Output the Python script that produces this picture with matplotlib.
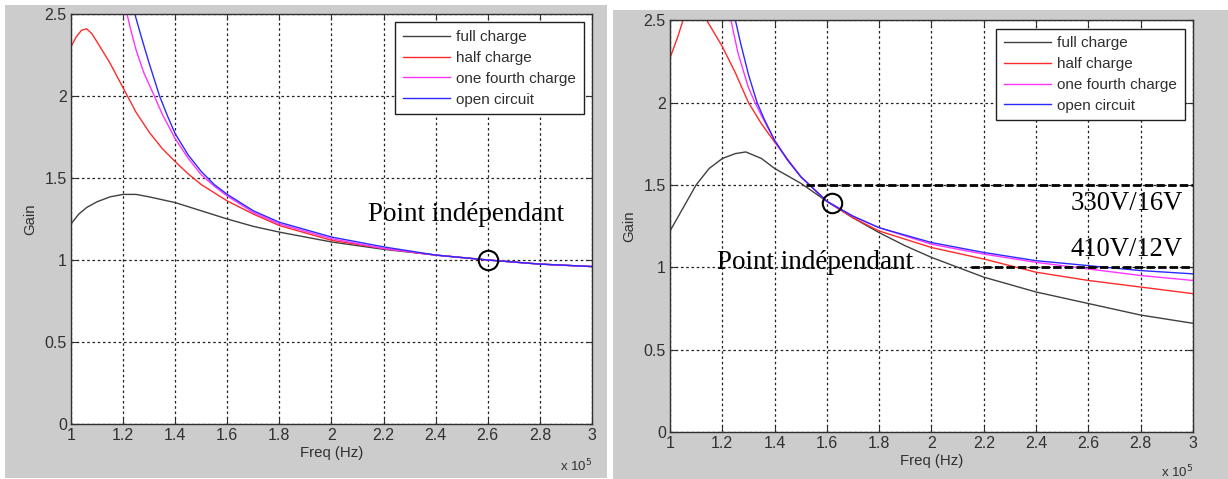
import matplotlib
matplotlib.use('Agg')
import matplotlib.pyplot as plt
from matplotlib.patches import Rectangle
import numpy as np

labels = ['full charge', 'half charge', 'one fourth charge', 'open circuit']
colors = ['#404040', '#ff2b2b', '#ff33ff', '#2b2bff']

# left panel (freq in 1e5 Hz)
l_full_x = [1.0, 1.03, 1.06, 1.1, 1.15, 1.2, 1.25, 1.3, 1.4, 1.5, 1.6, 1.7, 1.8, 1.9, 2.0, 2.2, 2.4, 2.6, 2.8, 3.0]
l_full_y = [1.22, 1.28, 1.32, 1.355, 1.385, 1.40, 1.40, 1.385, 1.35, 1.30, 1.25, 1.205, 1.17, 1.14, 1.11, 1.065, 1.03, 1.0, 0.975, 0.96]
l_half_x = [1.0, 1.02, 1.04, 1.06, 1.08, 1.1, 1.15, 1.2, 1.25, 1.3, 1.35, 1.4, 1.45, 1.5, 1.6, 1.7, 1.8, 2.0, 2.2, 2.4, 2.6, 2.8, 3.0]
l_half_y = [2.30, 2.36, 2.40, 2.41, 2.38, 2.33, 2.20, 2.05, 1.90, 1.78, 1.68, 1.60, 1.525, 1.46, 1.36, 1.28, 1.21, 1.12, 1.07, 1.03, 1.0, 0.975, 0.96]
l_quart_x = [1.215, 1.23, 1.25, 1.28, 1.3, 1.32, 1.35, 1.4, 1.45, 1.5, 1.55, 1.6, 1.7, 1.8, 2.0, 2.2, 2.4, 2.6, 2.8, 3.0]
l_quart_y = [2.5, 2.40, 2.28, 2.14, 2.07, 2.0, 1.89, 1.74, 1.62, 1.52, 1.45, 1.39, 1.29, 1.22, 1.13, 1.07, 1.03, 1.0, 0.975, 0.96]
l_open_x = [1.245, 1.27, 1.3, 1.34, 1.37, 1.4, 1.45, 1.5, 1.55, 1.6, 1.7, 1.8, 2.0, 2.2, 2.4, 2.6, 2.8, 3.0]
l_open_y = [2.5, 2.36, 2.20, 2.0, 1.88, 1.77, 1.64, 1.54, 1.46, 1.40, 1.30, 1.23, 1.14, 1.08, 1.03, 1.0, 0.975, 0.96]

# right panel
r_full_x = [1.0, 1.05, 1.1, 1.15, 1.2, 1.25, 1.29, 1.35, 1.4, 1.45, 1.5, 1.6, 1.7, 1.8, 1.9, 2.0, 2.1, 2.2, 2.4, 2.6, 2.8, 3.0]
r_full_y = [1.22, 1.36, 1.50, 1.60, 1.66, 1.69, 1.70, 1.66, 1.60, 1.555, 1.51, 1.40, 1.30, 1.21, 1.13, 1.06, 1.0, 0.94, 0.85, 0.78, 0.71, 0.66]
r_half_x = [1.0, 1.03, 1.05, 1.08, 1.1, 1.14, 1.2, 1.25, 1.3, 1.35, 1.4, 1.5, 1.6, 1.7, 1.8, 2.0, 2.2, 2.4, 2.6, 2.8, 3.0]
r_half_y = [2.27, 2.40, 2.50, 2.60, 2.62, 2.50, 2.34, 2.18, 2.0, 1.87, 1.76, 1.55, 1.40, 1.30, 1.22, 1.12, 1.05, 0.97, 0.92, 0.88, 0.84]
r_quart_x = [1.233, 1.26, 1.3, 1.325, 1.35, 1.4, 1.45, 1.5, 1.6, 1.7, 1.8, 2.0, 2.2, 2.4, 2.6, 2.8, 3.0]
r_quart_y = [2.5, 2.30, 2.09, 2.0, 1.92, 1.77, 1.65, 1.55, 1.40, 1.31, 1.24, 1.14, 1.08, 1.03, 0.99, 0.95, 0.92]
r_open_x = [1.25, 1.27, 1.3, 1.333, 1.36, 1.4, 1.45, 1.5, 1.6, 1.7, 1.8, 2.0, 2.2, 2.4, 2.6, 2.8, 3.0]
r_open_y = [2.5, 2.36, 2.17, 2.0, 1.90, 1.77, 1.65, 1.55, 1.40, 1.31, 1.24, 1.15, 1.09, 1.04, 1.01, 0.98, 0.96]

xticks = [1, 1.2, 1.4, 1.6, 1.8, 2, 2.2, 2.4, 2.6, 2.8, 3]
yticks = [0, 0.5, 1, 1.5, 2, 2.5]

plt.rcParams['font.family'] = ['Liberation Sans', 'DejaVu Sans']

fig = plt.figure(figsize=(12.28, 4.79), dpi=100)
fig.patch.set_facecolor('white')
fig.patches.append(Rectangle((0.004, 0.002), 0.490, 0.988, transform=fig.transFigure,
                             facecolor='#cccccc', edgecolor='none', zorder=-10))
fig.patches.append(Rectangle((0.499, 0.0), 0.501, 0.979, transform=fig.transFigure,
                             facecolor='#cccccc', edgecolor='none', zorder=-10))

ax1 = fig.add_axes([0.0578, 0.1148, 0.4243, 0.856])
ax2 = fig.add_axes([0.5456, 0.098, 0.4259, 0.860])


def style(ax, xoff):
    ax.set_facecolor('white')
    ax.set_xlim(1, 3)
    ax.set_ylim(0, 2.5)
    ax.set_xticks(xticks)
    ax.set_xticklabels(['1', '1.2', '1.4', '1.6', '1.8', '2', '2.2', '2.4', '2.6', '2.8', '3'])
    ax.set_yticks(yticks)
    ax.set_yticklabels(['0', '0.5', '1', '1.5', '2', '2.5'])
    ax.grid(True, linestyle=(0, (2, 2.2)), color='#202020', linewidth=0.9)
    ax.tick_params(direction='in', top=True, right=True, length=4, labelsize=11.5,
                   colors='#303030', pad=3)
    for s in ax.spines.values():
        s.set_color('#303030')
        s.set_linewidth(1.0)
    ax.set_xlabel('Freq (Hz)', fontsize=10.8, color='#303030', labelpad=2)
    ax.set_ylabel('Gain', fontsize=10.8, color='#303030', labelpad=5)
    ax.text(1.0, xoff, r'x 10$^5$', transform=ax.transAxes, ha='right', va='top',
            fontsize=9.5, color='#303030')


style(ax1, -0.083)
style(ax2, -0.078)

left_series = [(l_full_x, l_full_y), (l_half_x, l_half_y), (l_quart_x, l_quart_y), (l_open_x, l_open_y)]
right_series = [(r_full_x, r_full_y), (r_half_x, r_half_y), (r_quart_x, r_quart_y), (r_open_x, r_open_y)]

for (x, y), c, lab in zip(left_series, colors, labels):
    ax1.plot(x, y, color=c, linewidth=1.0, label=lab)
for (x, y), c, lab in zip(right_series, colors, labels):
    ax2.plot(x, y, color=c, linewidth=1.0, label=lab)

for ax in (ax1, ax2):
    leg = ax.legend(loc='upper right', fontsize=11, fancybox=False, framealpha=1,
                    edgecolor='#202020', handlelength=3.1, handletextpad=0.4,
                    borderaxespad=0.55, labelspacing=0.45, borderpad=0.5)
    leg.get_frame().set_linewidth(1.0)
    for t in leg.get_texts():
        t.set_color('#303030')

# annotations
ax1.plot([2.6], [1.0], marker='o', markersize=14, markerfacecolor='none',
         markeredgecolor='black', markeredgewidth=1.5)
ax1.text(2.14, 1.28, 'Point indépendant', family='Liberation Serif', fontsize=19.5,
         va='center', ha='left')

ax2.plot([1.62], [1.39], marker='o', markersize=14, markerfacecolor='none',
         markeredgecolor='black', markeredgewidth=1.5)
ax2.text(1.18, 1.03, 'Point indépendant', family='Liberation Serif', fontsize=19.5,
         va='center', ha='left')
ax2.plot([1.52, 3.0], [1.5, 1.5], color='black', linestyle=(0, (3, 1.2)), linewidth=2)
ax2.plot([2.15, 3.0], [1.0, 1.0], color='black', linestyle=(0, (3, 1.2)), linewidth=2)
ax2.text(2.962, 1.39, '330V/16V', family='Liberation Serif', fontsize=19.2,
         va='center', ha='right')
ax2.text(2.962, 1.11, '410V/12V', family='Liberation Serif', fontsize=19.2,
         va='center', ha='right')

fig.savefig('out.png', dpi=100)
